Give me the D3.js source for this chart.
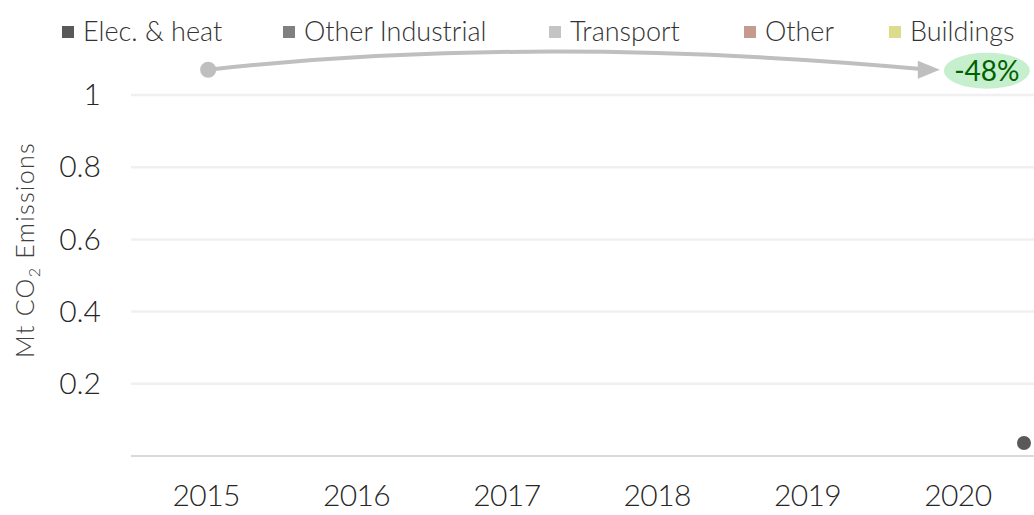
<!DOCTYPE html>
<html lang="en">
<head>
<meta charset="utf-8">
<title>Mt CO2 Emissions by sector</title>
<script src="https://cdn.jsdelivr.net/npm/d3@7"></script>
<style>
  body { margin: 0; background: #fff; }
  text { font-family: Lato, "Open Sans", sans-serif; font-weight: 300; fill: #262626; }
  .xaxis .tick text { font-size: 30px; letter-spacing: -0.6px; }
  .yaxis .tick text { font-size: 30px; }
  .legend text { font-size: 27px; fill: #333; }
  .ylabel { font-size: 25px; fill: #404040; letter-spacing: 1.3px; }
  .badge { font-size: 28px; font-weight: 400; fill: #006100; }
</style>
</head>
<body>
<script>
var w = 1034, h = 515;

// data
var years = ["2015", "2016", "2017", "2018", "2019", "2020"];
var yTicks = [0.2, 0.4, 0.6, 0.8, 1];
var sectors = ["Elec. & heat", "Other Industrial", "Transport", "Other", "Buildings"];
var sectorColors = ["#595959", "#808080", "#c4c4c4", "#c79a90", "#dcdc8c"];
var legendX = [62, 283, 549, 744, 889];
var elecEnd = 0.036;          // last marker of Elec. & heat
var totalStart = 1.07, totalEnd = 1.07;   // arrow annotation ends
var changeLabel = "-48%";

var xScale = d3.scaleBand().domain(years).range([131, 1033]);
var yScale = d3.scaleLinear().domain([0, 1]).range([456, 95]);
var bw = xScale.bandwidth();

var svg = d3.select("body").append("svg").attr("width", w).attr("height", h);

// gridlines
svg.selectAll(".grid").data(yTicks).enter().append("line")
   .attr("x1", 131).attr("x2", w)
   .attr("y1", function(d) { return yScale(d); })
   .attr("y2", function(d) { return yScale(d); })
   .attr("stroke", "#f0f0f0").attr("stroke-width", 2.5);

svg.append("line").attr("x1", 131).attr("x2", w)
   .attr("y1", yScale(0)).attr("y2", yScale(0))
   .attr("stroke", "#d9d9d9").attr("stroke-width", 2);

// axes
var xAxis = d3.axisBottom(xScale).tickSize(0).tickPadding(29);
var gx = svg.append("g").attr("class", "xaxis")
   .attr("transform", "translate(0," + yScale(0) + ")").call(xAxis);
gx.select(".domain").remove();

var yAxis = d3.axisLeft(yScale).tickValues(yTicks).tickSize(0).tickPadding(0)
   .tickFormat(function(d) { return d3.format("")(d); });
var gy = svg.append("g").attr("class", "yaxis").attr("transform", "translate(101,0)").call(yAxis);
gy.select(".domain").remove();

// y label
var yl = svg.append("text").attr("class", "ylabel")
   .attr("transform", "translate(34,250) rotate(-90)")
   .attr("text-anchor", "middle");
yl.append("tspan").text("Mt CO");
yl.append("tspan").attr("font-size", 16).attr("dy", 6).text("2");
yl.append("tspan").attr("dy", -6).text(" Emissions");

// legend
var leg = svg.append("g").attr("class", "legend");
leg.selectAll("rect").data(sectors).enter().append("rect")
   .attr("x", function(d, i) { return legendX[i]; })
   .attr("y", 26).attr("width", 12).attr("height", 12)
   .attr("fill", function(d, i) { return sectorColors[i]; });
leg.selectAll("text").data(sectors).enter().append("text")
   .attr("x", function(d, i) { return legendX[i] + 21; })
   .attr("y", 41)
   .text(function(d) { return d; });

// elec & heat end marker
svg.append("circle")
   .attr("cx", xScale("2020") + bw * 0.94)
   .attr("cy", yScale(elecEnd))
   .attr("r", 7).attr("fill", sectorColors[0]);

// arrow annotation
var x0 = xScale("2015") + bw / 2 + 2;
var x1 = xScale("2020") + bw / 2 - 18;
var y0 = yScale(totalStart), y1 = yScale(totalEnd);
var cx = (x0 + x1) / 2 - 40, cy = Math.min(y0, y1) - 36;
var tipX = x1;
svg.append("path")
   .attr("d", "M" + x0 + "," + y0 + " Q" + cx + "," + cy + " " + (tipX - 16) + "," + (y1 - 0.5))
   .attr("fill", "none").attr("stroke", "#bfbfbf").attr("stroke-width", 4);
svg.append("path")
   .attr("d", "M" + tipX + "," + y1 + " L" + (tipX - 22) + "," + (y1 - 9) + " L" + (tipX - 22) + "," + (y1 + 9) + "Z")
   .attr("fill", "#bfbfbf");
svg.append("circle").attr("cx", x0).attr("cy", y0).attr("r", 8).attr("fill", "#bfbfbf");

svg.append("ellipse")
   .attr("cx", x1 + 47).attr("cy", y1 + 1)
   .attr("rx", 43).attr("ry", 18).attr("fill", "#c6efce");
svg.append("text").attr("class", "badge")
   .attr("x", x1 + 47).attr("y", y1 + 11)
   .attr("text-anchor", "middle")
   .text(changeLabel);
</script>
</body>
</html>
